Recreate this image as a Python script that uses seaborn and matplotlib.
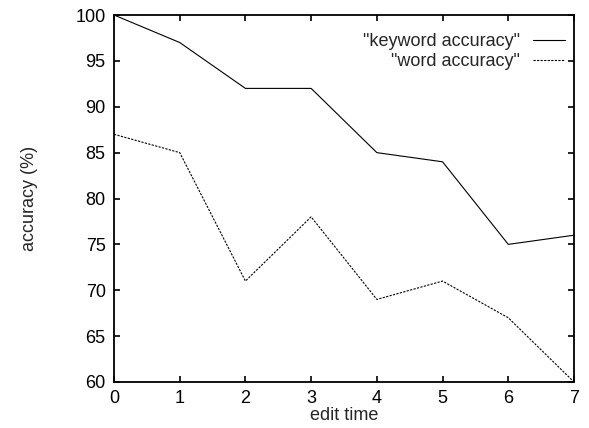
import matplotlib
matplotlib.use("Agg")
import matplotlib.pyplot as plt
import seaborn as sns
import pandas as pd

edit_time = [0, 1, 2, 3, 4, 5, 6, 7]
keyword_accuracy = [100, 97, 92, 92, 85, 84, 75, 76]
word_accuracy = [87, 85, 71, 78, 69, 71, 67, 60]
series_names = ['"keyword accuracy"', '"word accuracy"']

sns.set_style("white")
plt.rcParams['font.family'] = ['Liberation Sans', 'DejaVu Sans']

df = pd.DataFrame({
    "edit time": edit_time * 2,
    "accuracy": keyword_accuracy + word_accuracy,
    "series": [series_names[0]] * len(edit_time) + [series_names[1]] * len(edit_time),
})

FS = 13
fig = plt.figure(figsize=(5.89, 4.28), dpi=100)
ax = fig.add_axes([114/589, 1 - 382/428, (574-114)/589, (382-15)/428])

sns.lineplot(data=df, x="edit time", y="accuracy", hue="series", style="series",
             palette=["black", "black"], dashes=[(None, None), (2, 1.2)],
             linewidth=0.8, ax=ax, legend=True)

ax.set_xlim(0, 7)
ax.set_ylim(60, 100)
ax.set_xticks(range(0, 8))
ax.set_yticks(range(60, 101, 5))
ax.tick_params(direction="in", length=4, width=1.2, labelsize=FS, colors="black",
               top=True, right=True, bottom=True, left=True, pad=6)
for s in ax.spines.values():
    s.set_linewidth(1.3)
    s.set_color("black")
ax.set_xlabel("edit time", fontsize=FS, labelpad=0)
ax.set_ylabel("accuracy (%)", fontsize=FS, labelpad=27)

leg = ax.legend(frameon=False, markerfirst=False, loc="upper right",
                bbox_to_anchor=(1.0 - 2/460, 1.0 - 11/367),
                fontsize=FS, handlelength=1.75, handletextpad=0.75,
                labelspacing=0.18, borderaxespad=0)
for t in leg.get_texts():
    t.set_ha("right")

fig.savefig("out.png", dpi=100)
